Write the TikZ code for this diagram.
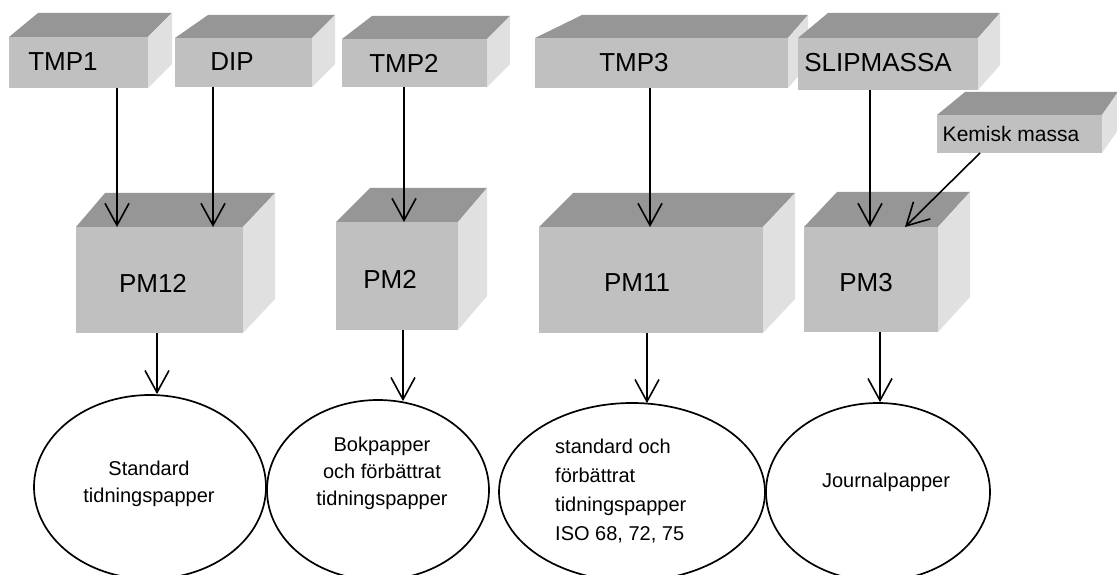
\documentclass[tikz,border=0pt]{standalone}
\usepackage{fontspec}
\setmainfont{Liberation Sans}
\usetikzlibrary{arrows.meta,shapes.geometric,fit}
\definecolor{frontc}{HTML}{C0C0C0}
\definecolor{topc}{HTML}{969696}
\definecolor{sidec}{HTML}{E0E0E0}
% #1 name, #2 x1, #3 y1, #4 x2, #5 y2, #6 back-left x, #7 back-right x, #8 back top y
\newcommand{\cubebox}[8]{%
  \fill[topc] (#2,#3) -- (#6,#8) -- (#7,#8) -- (#4,#3) -- cycle;
  \fill[sidec] (#4,#3) -- (#7,#8) -- (#7,{#5-#3+#8}) -- (#4,#5) -- cycle;
  \node[front, fit={(#2,#3) (#4,#5)}] (#1) {};
}
\tikzset{
  front/.style={fill=frontc, draw=none, inner sep=0pt, outer sep=0pt},
  lbl/.style={font=\fontsize{26}{31}\selectfont, inner sep=0pt},
  klbl/.style={font=\fontsize{21}{25}\selectfont, inner sep=0pt},
  oval/.style={ellipse, draw=black, line width=1.7pt, inner sep=0pt},
  etext/.style={font=\fontsize{20}{27}\selectfont, inner sep=0pt},
  arr/.style={-{Straight Barb[length=22pt,width=24pt]}, line width=1.6pt},
}
\begin{document}
\begin{tikzpicture}[x=1pt,y=-1pt]
\clip (0,0) rectangle (1117,575);
\fill[white] (0,0) rectangle (1117,575);
% source boxes
\cubebox{tmp1}{9}{37}{148}{88}{38}{172}{13}
\cubebox{dip}{175}{38}{312}{87}{208}{335}{15}
\cubebox{tmp2}{342}{39}{487}{87}{372}{510}{16}
\cubebox{tmp3}{535}{38}{788}{88}{582}{808}{15}
\cubebox{slip}{798}{38}{978}{90}{828}{1000}{13}
\cubebox{kem}{937}{115}{1102}{153}{965}{1118}{92}
% machines
\cubebox{pm12}{76}{227}{243}{333}{105}{275}{193}
\cubebox{pm2}{336}{222}{458}{330}{370}{487}{188}
\cubebox{pm11}{539}{227}{763}{333}{573}{795}{193}
\cubebox{pm3}{804}{227}{938}{332}{837}{970}{192}
% labels
\node[lbl] (tmp1t) at (63,62) {TMP1};
\node[lbl] (dipt) at (232,62) {DIP};
\node[lbl] (tmp2t) at (404,63) {TMP2};
\node[lbl] (tmp3t) at (634,63) {TMP3};
\node[lbl] (slipt) at (878,63) {SLIPMASSA};
\node[klbl] (kemt) at (1011,134) {Kemisk massa};
\node[lbl] (pm12t) at (153,283) {PM12};
\node[lbl] (pm2t) at (390,279) {PM2};
\node[lbl] (pm11t) at (637,283) {PM11};
\node[lbl] (pm3t) at (866,283) {PM3};
% products
\node[oval, minimum width=232pt, minimum height=184pt] (e1) at (150,487) {};
\node[oval, minimum width=222pt, minimum height=180pt] (e2) at (378,490) {};
\node[oval, minimum width=266pt, minimum height=178pt] (e3) at (632,492) {};
\node[oval, minimum width=224pt, minimum height=178pt] (e4) at (878,492) {};
\node[etext, align=center] (e1t) at (149,484) {Standard\\tidningspapper};
\node[etext, align=center] (e2t) at (382,473) {Bokpapper\\och förbättrat\\tidningspapper};
\node[etext, align=left, anchor=west, font=\fontsize{20}{29}\selectfont] (e3t) at (555,491) {standard och\\förbättrat\\tidningspapper\\ISO 68, 72, 75};
\node[etext] (e4t) at (886,482) {Journalpapper};
% arrows into machines
\draw[arr] ([xshift=38.5pt]tmp1.south) -- ([xshift=-42.5pt]pm12.north);
\draw[arr] ([xshift=-30.5pt]dip.south) -- ([xshift=53.5pt]pm12.north);
\draw[arr] ([xshift=-10.5pt]tmp2.south) -- ([xshift=7pt]pm2.north);
\draw[arr] ([xshift=-11.5pt]tmp3.south) -- ([xshift=-1pt]pm11.north);
\draw[arr] ([xshift=-18pt]slip.south) -- ([xshift=-1pt]pm3.north);
\draw[arr] ([xshift=-39.5pt]kem.south) -- ([xshift=34pt]pm3.north);
% arrows to products
\draw[arr] ([xshift=-2.5pt]pm12.south) -- ([xshift=7pt]e1.north);
\draw[arr] ([xshift=6pt]pm2.south) -- ([xshift=25pt,yshift=-2pt]e2.north);
\draw[arr] ([xshift=-4pt]pm11.south) -- ([xshift=15pt,yshift=-1pt]e3.north);
\draw[arr] ([xshift=9pt]pm3.south) -- ([xshift=2pt]e4.north);
\end{tikzpicture}
\end{document}
